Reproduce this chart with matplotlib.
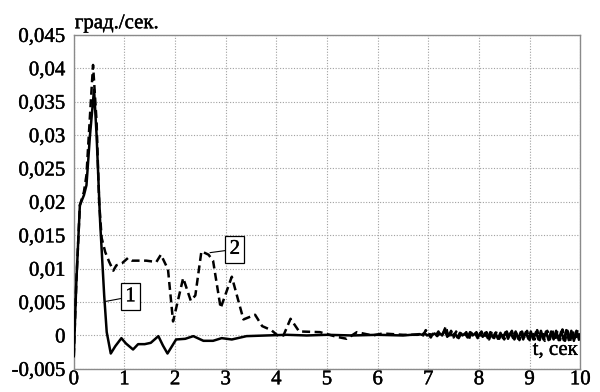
import numpy as np
import matplotlib
matplotlib.use("Agg")
import matplotlib.pyplot as plt
import matplotlib.patheffects as pe
from matplotlib.ticker import FixedLocator

plt.rcParams['font.family'] = 'serif'
plt.rcParams['font.serif'] = ['Liberation Serif', 'DejaVu Serif']

# Curve 1 (solid): transient part
t1_main = [0, 0.05, 0.12, 0.2, 0.25, 0.32, 0.4, 0.45, 0.52, 0.6, 0.65, 0.73,
           0.82, 0.94, 1.03, 1.17, 1.27, 1.4, 1.52, 1.67, 1.76, 1.85, 2.02,
           2.2, 2.36, 2.56, 2.75, 2.92, 3.12, 3.41, 3.8, 4.2, 4.6, 5.0, 5.5,
           6.0, 6.5]
v1_main = [-0.0031, 0.008, 0.0195, 0.021, 0.0225, 0.030, 0.0368, 0.030,
           0.017, 0.006, 0.0005, -0.0027, -0.0016, -0.0004, -0.0012, -0.0021,
           -0.0013, -0.0013, -0.0011, -0.0001, -0.0015, -0.0027, -0.0006,
           -0.0005, -0.0001, -0.0008, -0.0008, -0.0004, -0.0006, -0.0001,
           0.0, 0.0001, 0.0, 0.0001, 0.0, 0.0001, 0.0]

# Curve 2 (dashed): transient part
t2_main = [0, 0.05, 0.12, 0.2, 0.25, 0.32, 0.38, 0.45, 0.5, 0.55, 0.62, 0.7,
           0.78, 0.84, 0.95, 1.07, 1.15, 1.24, 1.43, 1.63, 1.72, 1.86, 1.96,
           2.16, 2.31, 2.4, 2.52, 2.66, 2.75, 2.9, 3.12, 3.35, 3.58, 3.72,
           3.9, 4.04, 4.14, 4.28, 4.45, 4.86, 5.19, 5.39, 5.59, 5.9, 6.1, 6.5]
v2_main = [-0.0031, 0.008, 0.0195, 0.0215, 0.024, 0.033, 0.0405, 0.032,
           0.020, 0.0146, 0.0125, 0.011, 0.0097, 0.0105, 0.0108, 0.0116,
           0.0112, 0.0112, 0.0112, 0.011, 0.0121, 0.0099, 0.0021, 0.0086,
           0.0052, 0.0060, 0.0126, 0.0121, 0.0112, 0.0041, 0.0088, 0.0024,
           0.0031, 0.0014, 0.0008, -0.0001, 0.0, 0.0025, 0.0006, 0.0005,
           -0.0002, -0.0005, 0.0005, 0.0, 0.0003, 0.0001]

# Steady-state oscillations, sampled every 0.05 s; curve 1 samples lie
# half a step before curve 2 samples
t2_tail = np.round(np.arange(6.8, 10.0001, 0.05), 3)
t1_tail = np.round(t2_tail - 0.025, 3)
v1_tail = [0.0001, 0.0002, 0.0001, 0.0004, 0.0000, 0.0002, 0.0001, 0.0003, -0.0001, 0.0003,
           0.0000, 0.0008, -0.0002, 0.0004, 0.0000, 0.0003, -0.0003, 0.0004, 0.0000, 0.0003,
           -0.0003, 0.0005, 0.0000, 0.0003, -0.0004, 0.0004, -0.0002, 0.0004, -0.0004, 0.0005,
           -0.0003, 0.0004, -0.0005, 0.0004, -0.0004, 0.0005, -0.0005, 0.0004, -0.0004, 0.0006,
           -0.0005, 0.0005, -0.0006, 0.0005, -0.0005, 0.0006, -0.0006, 0.0005, -0.0006, 0.0007,
           -0.0006, 0.0006, -0.0007, 0.0006, -0.0006, 0.0007, -0.0007, 0.0006, -0.0007, 0.0008,
           -0.0007, 0.0007, -0.0008, 0.0007, -0.0006]
v2_tail = [0.0001, 0.0003, 0.0000, 0.0008, 0.0002, -0.0003, 0.0004, 0.0000, 0.0006, -0.0002,
           0.0005, 0.0014, -0.0005, 0.0007, -0.0003, 0.0006, -0.0004, 0.0003, -0.0002, 0.0005,
           -0.0006, 0.0004, -0.0001, 0.0005, -0.0005, 0.0006, -0.0003, 0.0005, -0.0006, 0.0004,
           -0.0004, 0.0006, -0.0005, 0.0005, -0.0006, 0.0006, -0.0004, 0.0007, -0.0006, 0.0005,
           -0.0007, 0.0006, -0.0005, 0.0007, -0.0007, 0.0006, -0.0006, 0.0008, -0.0007, 0.0006,
           -0.0008, 0.0007, -0.0006, 0.0008, -0.0008, 0.0007, -0.0007, 0.0009, -0.0008, 0.0007,
           -0.0009, 0.0008, -0.0008, 0.0009, -0.0007]

t1 = np.concatenate([t1_main, t1_tail[1:]])
v1 = np.concatenate([v1_main, v1_tail[1:]])
t2 = np.concatenate([t2_main, t2_tail])
v2 = np.concatenate([v2_main, v2_tail])

x_ticks = [0, 1, 2, 3, 4, 5, 6, 7, 8, 9, 10]
y_ticks = [-0.005, 0, 0.005, 0.01, 0.015, 0.02, 0.025, 0.03, 0.035, 0.04, 0.045]
y_labels = ['-0,005', '0', '0,005', '0,01', '0,015', '0,02', '0,025',
            '0,03', '0,035', '0,04', '0,045']

# slightly heavier strokes for all text
heavy = [pe.withStroke(linewidth=0.3, foreground='black')]

fig = plt.figure(figsize=(6.0, 3.92), dpi=100)
ax = fig.add_axes([0.123, 0.059, 0.844, 0.852])

ax.plot(t2, v2, color='black', lw=1.8, ls=(0, (3.2, 1.8)), zorder=3)
ax.plot(t1, v1, color='black', lw=1.8, zorder=4)

ax.set_xlim(0, 10)
ax.set_ylim(-0.005, 0.045)
ax.xaxis.set_major_locator(FixedLocator(x_ticks))
ax.yaxis.set_major_locator(FixedLocator(y_ticks))
ax.set_xticklabels([str(v) for v in x_ticks])
ax.set_yticklabels(y_labels)
ax.tick_params(axis='both', length=0, labelsize=15, colors='black')
ax.tick_params(axis='x', pad=1)
ax.tick_params(axis='y', pad=6)
for lbl in ax.get_xticklabels() + ax.get_yticklabels():
    lbl.set_path_effects(heavy)

ax.grid(True, color='#a0a0a0', ls=(0, (1, 1.5)), lw=0.8)
for s in ax.spines.values():
    s.set_color('#8a8a8a')
    s.set_linewidth(1.0)

# Axis unit labels
ax.text(0.002, 1.005, 'град./сек.', transform=ax.transAxes, fontsize=15,
        ha='left', va='bottom', path_effects=heavy)
ax.text(9.96, -0.0029, 't, сек', fontsize=15, ha='right', va='baseline',
        path_effects=heavy)

# Curve markers with leader lines
box = dict(boxstyle='square,pad=0.2', fc='white', ec='black', lw=0.9)
ax.annotate('1', xy=(0.63, 0.0051), xytext=(1.12, 0.0058), fontsize=15,
            ha='center', va='center', bbox=box, path_effects=heavy,
            arrowprops=dict(arrowstyle='-', color='black', lw=0.8,
                            shrinkA=0, shrinkB=0))
ax.annotate('2', xy=(2.69, 0.0124), xytext=(3.18, 0.0129), fontsize=15,
            ha='center', va='center', bbox=box, path_effects=heavy,
            arrowprops=dict(arrowstyle='-', color='black', lw=0.8,
                            shrinkA=0, shrinkB=0))

fig.savefig('out.png', dpi=100, facecolor='white')
